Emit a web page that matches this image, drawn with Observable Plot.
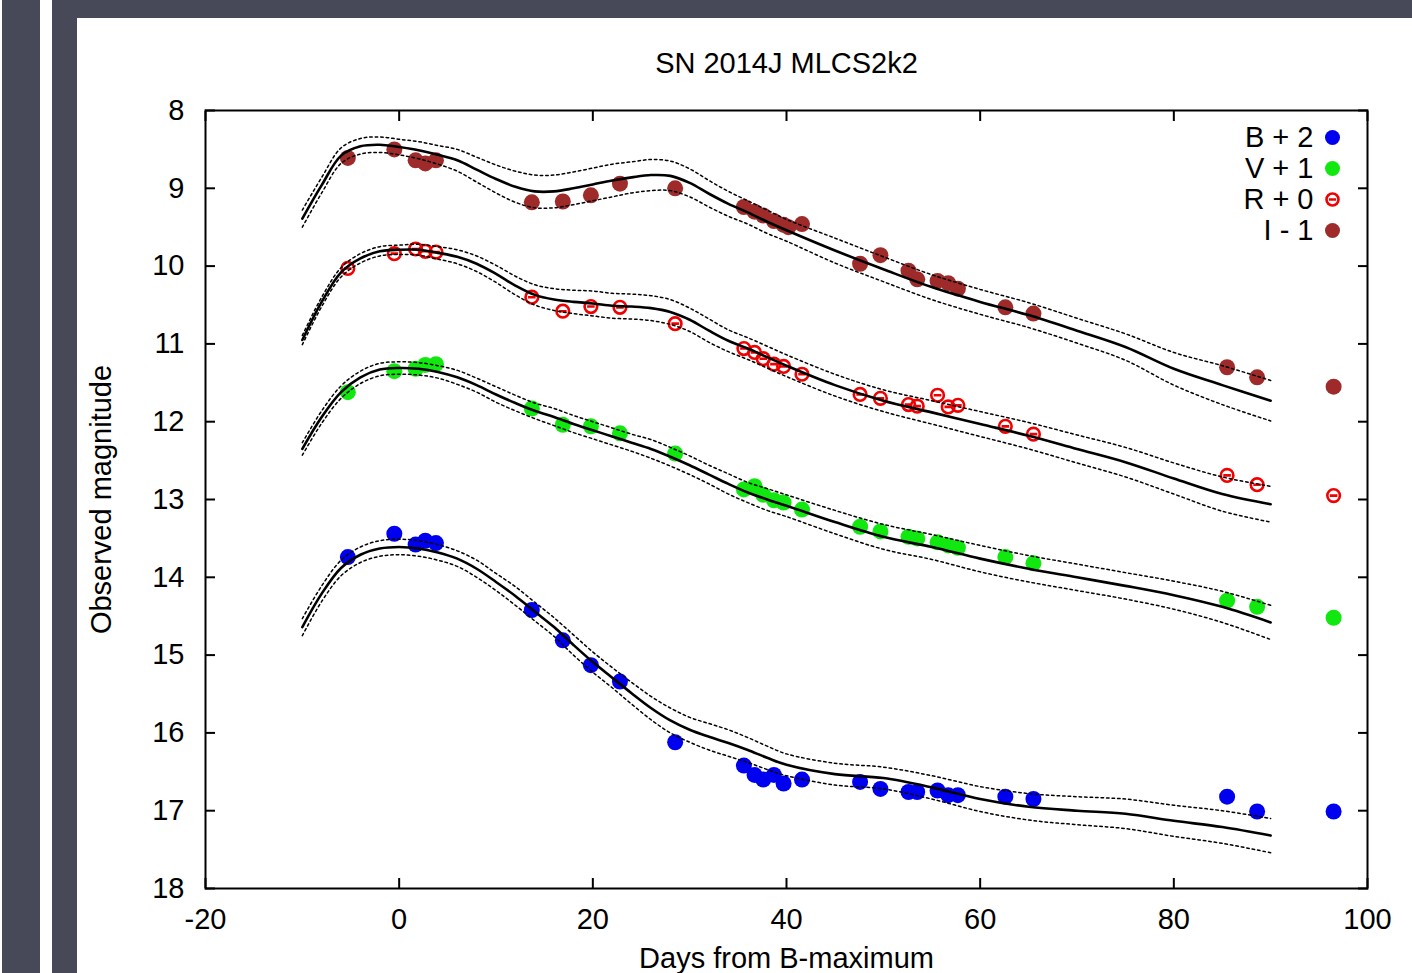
<!DOCTYPE html>
<html>
<head>
<meta charset="utf-8">
<script src="https://cdn.jsdelivr.net/npm/d3@7"></script>
<script src="https://cdn.jsdelivr.net/npm/@observablehq/plot@0.6"></script>
<style>
  html, body { margin: 0; padding: 0; background: #ffffff; }
  body { width: 1412px; height: 973px; position: relative; overflow: hidden; }
  .bar { position: absolute; background: #474858; }
  #chart { position: absolute; left: 77px; top: 18px; }
</style>
</head>
<body>
<div class="bar" style="left:2px;top:0;width:38px;height:973px;"></div>
<div class="bar" style="left:52px;top:0;width:25px;height:973px;"></div>
<div class="bar" style="left:52px;top:0;width:1360px;height:18px;"></div>
<div id="chart"></div>
<script>
// ---- tick labels / axes ----
const xTicks = [-20, 0, 20, 40, 60, 80, 100];
const yTicks = [8, 9, 10, 11, 12, 13, 14, 15, 16, 17, 18];
const titleText = "SN 2014J MLCS2k2";
const xLabel = "Days from B-maximum";
const yLabel = "Observed magnitude";

// ---- bands ----
const bandNames = ["B + 2", "V + 1", "R + 0", "I - 1"];
const bandColors = ["#0000f0", "#10e810", "#f00000", "#9e2a2a"];

// ---- observations (plotted magnitudes, offsets included) ----
const obsDays = [-5.3, -0.5, 1.7, 2.7, 3.8, 13.7, 16.9, 19.8, 22.8, 28.5, 35.6, 36.7, 37.6, 38.7, 39.7, 41.6, 47.6, 49.7, 52.6, 53.5, 55.6, 56.7, 57.7, 62.6, 65.5, 85.5, 88.6, 96.5];
const bObs = [13.74, 13.44, 13.58, 13.53, 13.56, 14.42, 14.81, 15.13, 15.34, 16.12, 16.42, 16.54, 16.60, 16.54, 16.65, 16.60, 16.63, 16.72, 16.76, 16.76, 16.74, 16.80, 16.80, 16.82, 16.85, 16.82, 17.01, 17.01];
const vObs = [11.62, 11.35, 11.32, 11.27, 11.26, 11.83, 12.04, 12.06, 12.15, 12.41, 12.87, 12.83, 12.94, 13.01, 13.04, 13.13, 13.35, 13.41, 13.48, 13.50, 13.55, 13.59, 13.62, 13.74, 13.82, 14.30, 14.38, 14.52];
const rObs = [10.03, 9.84, 9.78, 9.81, 9.82, 10.40, 10.58, 10.52, 10.53, 10.74, 11.06, 11.11, 11.19, 11.26, 11.29, 11.39, 11.65, 11.70, 11.78, 11.80, 11.66, 11.81, 11.79, 12.06, 12.16, 12.69, 12.81, 12.95];
const iObs = [8.61, 8.50, 8.64, 8.68, 8.64, 9.18, 9.17, 9.09, 8.94, 9.00, 9.24, 9.30, 9.35, 9.42, 9.47, 9.46, 9.97, 9.86, 10.06, 10.17, 10.19, 10.22, 10.29, 10.53, 10.61, 11.30, 11.43, 11.55];
const iExtraDays = [40.2];
const iExtraObs = [9.50];

// ---- MLCS2k2 model curves ----
const modelDays = [-10, -8, -6, -4, -2, 0, 2, 4, 6, 8, 10, 12, 14, 16, 18, 20, 22, 24, 26, 28, 30, 32, 34, 36, 38, 40, 45, 50, 55, 60, 65, 70, 75, 80, 85, 90];
const bModel = [14.64, 14.21, 13.88, 13.71, 13.63, 13.61, 13.63, 13.68, 13.76, 13.89, 14.06, 14.24, 14.44, 14.64, 14.87, 15.09, 15.29, 15.49, 15.68, 15.84, 15.96, 16.05, 16.13, 16.22, 16.32, 16.41, 16.53, 16.58, 16.70, 16.85, 16.95, 17.00, 17.04, 17.13, 17.21, 17.32];
const bSigma = [0.11, 0.10, 0.10, 0.10, 0.10, 0.10, 0.10, 0.10, 0.10, 0.11, 0.11, 0.12, 0.12, 0.12, 0.13, 0.13, 0.13, 0.14, 0.15, 0.16, 0.16, 0.17, 0.17, 0.16, 0.15, 0.14, 0.14, 0.14, 0.15, 0.16, 0.17, 0.18, 0.19, 0.20, 0.21, 0.22];
const vModel = [12.35, 11.94, 11.62, 11.43, 11.33, 11.31, 11.32, 11.36, 11.43, 11.53, 11.65, 11.76, 11.86, 11.94, 12.03, 12.11, 12.19, 12.27, 12.35, 12.45, 12.56, 12.68, 12.80, 12.91, 13.00, 13.08, 13.29, 13.48, 13.61, 13.76, 13.89, 14.00, 14.11, 14.23, 14.38, 14.58];
const vSigma = [0.08, 0.08, 0.08, 0.08, 0.08, 0.08, 0.08, 0.08, 0.09, 0.09, 0.10, 0.10, 0.10, 0.11, 0.11, 0.11, 0.11, 0.11, 0.12, 0.12, 0.12, 0.12, 0.13, 0.13, 0.14, 0.14, 0.15, 0.16, 0.16, 0.17, 0.17, 0.17, 0.17, 0.18, 0.20, 0.22];
const rModel = [10.95, 10.46, 10.08, 9.90, 9.81, 9.79, 9.79, 9.83, 9.88, 9.97, 10.10, 10.25, 10.37, 10.43, 10.46, 10.48, 10.51, 10.52, 10.54, 10.59, 10.69, 10.83, 10.96, 11.06, 11.17, 11.28, 11.53, 11.73, 11.88, 12.03, 12.18, 12.35, 12.52, 12.73, 12.93, 13.06];
const rSigma = [0.06, 0.06, 0.06, 0.06, 0.06, 0.06, 0.07, 0.08, 0.09, 0.10, 0.11, 0.12, 0.13, 0.14, 0.15, 0.16, 0.16, 0.16, 0.16, 0.16, 0.15, 0.15, 0.14, 0.14, 0.14, 0.14, 0.14, 0.14, 0.15, 0.16, 0.17, 0.18, 0.19, 0.20, 0.22, 0.23];
const iModel = [9.39, 8.96, 8.58, 8.46, 8.44, 8.47, 8.51, 8.57, 8.64, 8.76, 8.88, 8.98, 9.04, 9.04, 9.00, 8.95, 8.90, 8.86, 8.83, 8.84, 8.93, 9.07, 9.20, 9.31, 9.43, 9.54, 9.80, 10.04, 10.27, 10.46, 10.63, 10.83, 11.04, 11.32, 11.53, 11.73];
const iSigma = [0.11, 0.10, 0.10, 0.10, 0.10, 0.10, 0.11, 0.12, 0.14, 0.16, 0.18, 0.20, 0.21, 0.21, 0.21, 0.21, 0.21, 0.20, 0.20, 0.19, 0.18, 0.17, 0.16, 0.15, 0.15, 0.14, 0.16, 0.16, 0.16, 0.16, 0.16, 0.16, 0.17, 0.21, 0.25, 0.26];

// ---- build tables ----
const obsByBand = [
  {days: obsDays, mags: bObs},
  {days: obsDays, mags: vObs},
  {days: obsDays, mags: rObs},
  {days: obsDays.concat(iExtraDays), mags: iObs.concat(iExtraObs)}
];
const obs = [];
obsByBand.forEach((o, b) => o.days.forEach((d, i) => obs.push({band: bandNames[b], day: d, mag: o.mags[i]})));

const models = [[bModel, bSigma], [vModel, vSigma], [rModel, rSigma], [iModel, iSigma]];
const model = [];
models.forEach(([m, s], b) => modelDays.forEach((d, i) => model.push({band: bandNames[b], day: d, mag: m[i], lo: m[i] - s[i], hi: m[i] + s[i]})));

const colorOf = Object.fromEntries(bandNames.map((n, i) => [n, bandColors[i]]));

// ring with a horizontal bar (R-band symbol)
const ringBar = {
  draw(ctx, size) {
    const r = Math.sqrt(size / Math.PI);
    ctx.moveTo(r, 0);
    ctx.arc(0, 0, r, 0, 2 * Math.PI);
    ctx.moveTo(-r * 0.6, 0);
    ctx.lineTo(r * 0.6, 0);
  }
};

const filled = obs.filter(d => d.band !== "R + 0");
const rings = obs.filter(d => d.band === "R + 0");

const legendMarks = [];
bandNames.forEach((name, i) => {
  const dy = 27 + i * 31;
  legendMarks.push(Plot.text([name], {frameAnchor: "top-right", dx: -54, dy, text: d => d, textAnchor: "end", lineAnchor: "middle", fontSize: 29, fill: "black"}));
  if (name === "R + 0") {
    legendMarks.push(Plot.dot([name], {frameAnchor: "top-right", dx: -35, dy, r: 6, symbol: ringBar, fill: "none", stroke: bandColors[i], strokeWidth: 2.6}));
  } else {
    legendMarks.push(Plot.dot([name], {frameAnchor: "top-right", dx: -35, dy, r: 7.5, fill: bandColors[i], stroke: "none"}));
  }
});

const fmt = d => `${d}`;

const chart = Plot.plot({
  width: 1335,
  height: 955,
  marginLeft: 128,
  marginRight: 45,
  marginTop: 92,
  marginBottom: 85,
  style: {fontFamily: "'Liberation Sans', Arial, Helvetica, sans-serif", fontSize: "29px", color: "black", background: "white", overflow: "visible"},
  x: {domain: [-20, 100]},
  y: {domain: [8, 18], reverse: true},
  marks: [
    Plot.dot(filled, {x: "day", y: "mag", r: 8, fill: d => colorOf[d.band], stroke: "none"}),
    Plot.dot(rings, {x: "day", y: "mag", r: 6.3, symbol: ringBar, fill: "none", stroke: d => colorOf[d.band], strokeWidth: 2.6}),
    Plot.line(model, {x: "day", y: "lo", z: "band", curve: "catmull-rom", stroke: "black", strokeWidth: 1.5, strokeDasharray: "2.5,3"}),
    Plot.line(model, {x: "day", y: "hi", z: "band", curve: "catmull-rom", stroke: "black", strokeWidth: 1.5, strokeDasharray: "2.5,3"}),
    Plot.line(model, {x: "day", y: "mag", z: "band", curve: "catmull-rom", stroke: "black", strokeWidth: 2.6}),
    Plot.frame({stroke: "black", strokeWidth: 2}),
    Plot.axisX({anchor: "bottom", ticks: xTicks, tickSize: -10, tickPadding: 30, tickFormat: fmt, strokeWidth: 2, label: null, fontSize: 29}),
    Plot.axisX({anchor: "top", ticks: xTicks, tickSize: -10, strokeWidth: 2, label: null, tickFormat: () => ""}),
    Plot.axisY({anchor: "left", ticks: yTicks, tickSize: -10, tickPadding: 31, tickFormat: fmt, strokeWidth: 2, label: null, fontSize: 29}),
    Plot.axisY({anchor: "right", ticks: yTicks, tickSize: -10, strokeWidth: 2, label: null, tickFormat: () => ""}),
    Plot.text([titleText], {frameAnchor: "top", dy: -47, text: d => d, lineAnchor: "middle", fontSize: 29, fill: "black"}),
    Plot.text([xLabel], {frameAnchor: "bottom", dy: 70, text: d => d, lineAnchor: "middle", fontSize: 29, fill: "black"}),
    Plot.text([yLabel], {frameAnchor: "left", dx: -104, rotate: -90, text: d => d, textAnchor: "middle", lineAnchor: "middle", fontSize: 29, fill: "black"}),
    ...legendMarks
  ]
});
document.getElementById("chart").appendChild(chart);
</script>
</body>
</html>
